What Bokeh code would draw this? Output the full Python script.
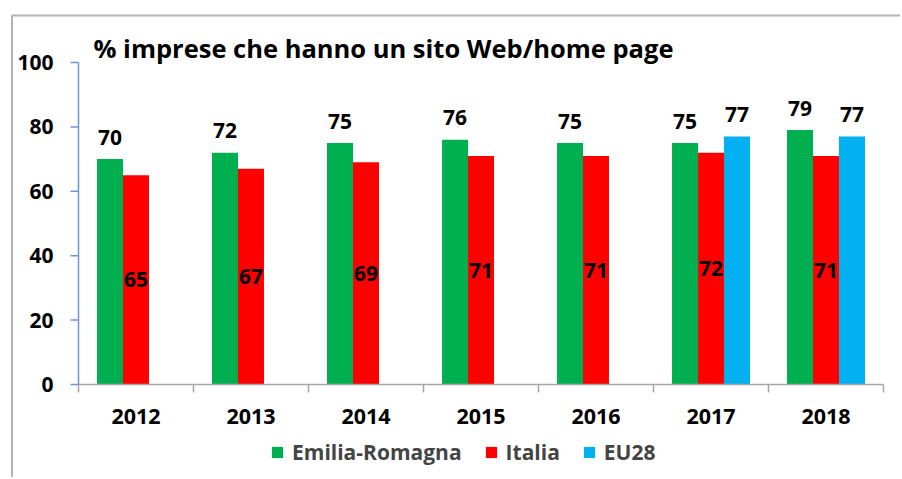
import math
from bokeh.plotting import figure
from bokeh.models import Range1d, ColumnDataSource, Legend, LegendItem, BoxAnnotation
from bokeh.transform import dodge
from bokeh.core.properties import value
from bokeh.embed import file_html
from bokeh.resources import INLINE

years = ["2012", "2013", "2014", "2015", "2016", "2017", "2018"]
emilia = [70, 72, 75, 76, 75, 75, 79]
italia = [65, 67, 69, 71, 71, 72, 71]
eu28 = [float("nan")] * 5 + [77, 77]
series_names = ["Emilia-Romagna", "Italia", "EU28"]
title_text = "% imprese che hanno un sito Web/home page"
y_ticks = [0, 20, 40, 60, 80, 100]

GREEN, RED, BLUE = "#00B050", "#FF0000", "#00B0F0"
AXIS_Y_COLOR, AXIS_X_COLOR = "#7094D8", "#A6A6A6"
FONT = "Open Sans"
W = 0.226

# canvas geometry (pixels)
CW, CH = 900, 477
X0_PX, Y0_PX, Y100_PX, CAT_PX = 78, 384, 62, 115
PX_PER_Y = (Y0_PX - Y100_PX) / 100.0
def px_x(px):  # page x -> data x
    return (px - X0_PX) / CAT_PX
def px_y(py):  # page y -> data y
    return (Y0_PX - py) / PX_PER_Y

p = figure(x_range=Range1d(px_x(0), px_x(CW)), y_range=Range1d(px_y(CH), px_y(0)),
           width=CW, height=CH, output_backend="svg", toolbar_location=None,
           x_axis_location=None, y_axis_location=None, min_border=0,
           outline_line_color=None)
p.xgrid.visible = False
p.ygrid.visible = False

# outer frame (left + top edges visible)
p.add_layout(BoxAnnotation(left=px_x(11.5), top=px_y(15), right=px_x(CW + 50), bottom=px_y(CH + 50),
                           fill_alpha=0, line_color="black", line_width=2))

n = len(years)
centers = [i + 0.5 for i in range(n)]
src = ColumnDataSource(dict(xc=centers, year=years, emilia=emilia, italia=italia,
                            ital_mid=[v / 2 for v in italia],
                            emilia_lbl=[str(v) for v in emilia],
                            italia_lbl=[str(v) for v in italia]))
eu_idx = [i for i, v in enumerate(eu28) if not math.isnan(v)]
eu_src = ColumnDataSource(dict(xc=[centers[i] for i in eu_idx], eu28=[eu28[i] for i in eu_idx],
                               lbl=[str(int(eu28[i])) for i in eu_idx]))

r1 = p.vbar(x=dodge("xc", -W), top="emilia", width=W, source=src, fill_color=GREEN, line_color=None)
r2 = p.vbar(x=dodge("xc", 0), top="italia", width=W, source=src, fill_color=RED, line_color=None)
r3 = p.vbar(x=dodge("xc", W), top="eu28", width=W, source=eu_src, fill_color=BLUE, line_color=None)

lbl_kw = dict(text_font=value(FONT), text_font_style="bold", text_font_size="21px",
              text_color="black", text_align="center")
p.text(x=dodge("xc", -W), y="emilia", text="emilia_lbl", source=src,
       text_baseline="alphabetic", y_offset=-22, **lbl_kw)
p.text(x=dodge("xc", 0), y="ital_mid", text="italia_lbl", source=src,
       text_baseline="middle", **lbl_kw)
p.text(x=dodge("xc", W), y="eu28", text="lbl", source=eu_src,
       text_baseline="alphabetic", y_offset=-22, **lbl_kw)

# x axis: line, boundary ticks, year labels
tick_dx = px_y(Y0_PX + 8)
p.segment(x0=[0], y0=[0], x1=[n], y1=[0], line_color=AXIS_X_COLOR, line_width=1.5)
p.segment(x0=list(range(n + 1)), y0=[0] * (n + 1), x1=list(range(n + 1)),
          y1=[tick_dx] * (n + 1), line_color=AXIS_X_COLOR, line_width=1.5)
p.text(x=centers, y=[px_y(416)] * n, text=years, text_baseline="middle",
       **{**lbl_kw, "text_font_size": "21.5px"})

# y axis: line, ticks, labels
p.segment(x0=[0], y0=[y_ticks[0]], x1=[0], y1=[y_ticks[-1]], line_color=AXIS_Y_COLOR, line_width=1.5)
p.segment(x0=[0] * len(y_ticks), y0=y_ticks, x1=[px_x(X0_PX - 8)] * len(y_ticks), y1=y_ticks,
          line_color=AXIS_Y_COLOR, line_width=1.5)
p.text(x=[px_x(53)] * len(y_ticks), y=y_ticks, text=[str(t) for t in y_ticks],
       text_baseline="middle", **{**lbl_kw, "text_align": "right"})

# title
p.text(x=[px_x(93)], y=[px_y(47)], text=[title_text], text_font=value(FONT),
       text_font_style="bold", text_font_size="25.5px", text_color="black",
       text_baseline="middle", text_align="left")

legend = Legend(items=[LegendItem(label=series_names[0], renderers=[r1]),
                       LegendItem(label=series_names[1], renderers=[r2]),
                       LegendItem(label=series_names[2], renderers=[r3])],
                orientation="horizontal", location=(270, CH - 453 - 13), glyph_width=14, glyph_height=14,
                label_text_font=FONT, label_text_font_style="bold", label_text_font_size="21px",
                label_standoff=8, spacing=22, padding=0, margin=0,
                border_line_color=None, background_fill_alpha=0)
p.add_layout(legend)

open("out.html", "w").write(file_html(p, INLINE))
